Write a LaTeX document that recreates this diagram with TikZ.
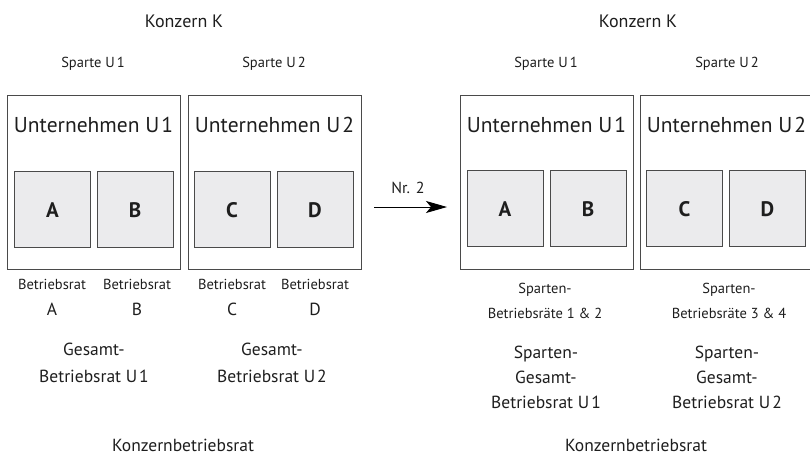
\documentclass[tikz,border=0pt]{standalone}
\usepackage{fontspec}
\setmainfont{PT Sans}
\usetikzlibrary{arrows.meta}
\definecolor{ink}{HTML}{1E1E1E}
\definecolor{frame}{HTML}{4A4A4A}
\definecolor{unitfill}{HTML}{EBEBED}
\newcommand{\fs}[1]{\fontsize{#1}{#1}\selectfont}
\newcommand{\un}[1]{U\kern2pt#1}
\begin{document}
\begin{tikzpicture}[x=1pt,y=-1pt,
  every node/.style={text=ink, inner sep=0pt, outer sep=0pt},
  firm/.style={draw=frame, line width=0.85pt, minimum width=173pt, minimum height=174pt},
  unitbox/.style={draw=frame, fill=unitfill, line width=0.8pt,
    minimum width=76pt, minimum height=76pt},
  unitlabel/.style={anchor=base, font=\bfseries\fs{21}},
  konzern/.style={anchor=base, font=\fs{18}},
  sparte/.style={anchor=base, font=\fs{14.5}},
  firmtitle/.style={anchor=base, font=\fs{21.5}},
  rat/.style={anchor=base, font=\fs{14.5}},
  ratbig/.style={anchor=base, font=\fs{17.5}},
  arrowlabel/.style={anchor=base, font=\fs{16}},
  flow/.style={line width=0.9pt, -{Stealth[length=21pt,width=12pt,inset=5pt]}}
]
\useasboundingbox (0,0) rectangle (810,458);

% ---------- before: two companies, four works ----------
\node[konzern] (kL) at (184,27) {Konzern K};
\node[sparte] (sL1) at (93,67) {Sparte \un{1}};
\node[sparte] (sL2) at (274,67) {Sparte \un{2}};

\node[firm] (uL1) at (93.5,182) {};
\node[firm] (uL2) at (274.5,182) {};
\node[firmtitle] (tL1) at (93.5,132) {Unternehmen \un{1}};
\node[firmtitle] (tL2) at (274.5,132) {Unternehmen \un{2}};

\node[unitbox] (aL) at (52.5,209) {};
\node[unitbox] (bL) at (135,209) {};
\node[unitbox] (cL) at (232,209) {};
\node[unitbox] (dL) at (315,209) {};
\node[unitlabel] at (52.5,217) {A};
\node[unitlabel] at (135,217) {B};
\node[unitlabel] at (232,217) {C};
\node[unitlabel] at (315,217) {D};

\node[rat] (brA) at (52,289) {Betriebsrat};
\node[rat] (brB) at (137,289) {Betriebsrat};
\node[rat] (brC) at (232,289) {Betriebsrat};
\node[rat] (brD) at (315,289) {Betriebsrat};
\node[ratbig] (lA) at (52,315) {A};
\node[ratbig] (lB) at (137,315) {B};
\node[ratbig] (lC) at (232,315) {C};
\node[ratbig] (lD) at (315,315) {D};

\node[ratbig] (gL1a) at (94,355) {Gesamt-};
\node[ratbig] (gL1b) at (94,382) {Betriebsrat \un{1}};
\node[ratbig] (gL2a) at (272,355) {Gesamt-};
\node[ratbig] (gL2b) at (272,382) {Betriebsrat \un{2}};

\node[ratbig] (kbrL) at (183,451) {Konzernbetriebsrat};

% ---------- transition ----------
\coordinate (arrS) at (374,207);
\coordinate (arrE) at (447,207);
\draw[flow] (arrS) -- (arrE);
\node[arrowlabel] (nr) at (408,193) {Nr. 2};

% ---------- after: divisional works councils ----------
\node[konzern] (kR) at (638,27) {Konzern K};
\node[sparte] (sR1) at (546,67) {Sparte \un{1}};
\node[sparte] (sR2) at (727,67) {Sparte \un{2}};

\node[firm] (uR1) at (546.5,182) {};
\node[firm] (uR2) at (726.5,182) {};
\node[firmtitle] (tR1) at (546.5,132) {Unternehmen \un{1}};
\node[firmtitle] (tR2) at (726.5,132) {Unternehmen \un{2}};

\node[unitbox] (aR) at (505,208) {};
\node[unitbox] (bR) at (588,208) {};
\node[unitbox] (cR) at (684.5,208) {};
\node[unitbox] (dR) at (767.5,208) {};
\node[unitlabel] at (505,216) {A};
\node[unitlabel] at (588,216) {B};
\node[unitlabel] at (684.5,216) {C};
\node[unitlabel] at (767.5,216) {D};

\node[rat] (sbR1a) at (545,293) {Sparten-};
\node[rat] (sbR1b) at (545,318) {Betriebsräte 1 \& 2};
\node[rat] (sbR2a) at (729,293) {Sparten-};
\node[rat] (sbR2b) at (729,318) {Betriebsräte 3 \& 4};

\node[ratbig] (sgR1a) at (546,358) {Sparten-};
\node[ratbig] (sgR1b) at (546,383) {Gesamt-};
\node[ratbig] (sgR1c) at (546,408) {Betriebsrat \un{1}};
\node[ratbig] (sgR2a) at (727,358) {Sparten-};
\node[ratbig] (sgR2b) at (727,383) {Gesamt-};
\node[ratbig] (sgR2c) at (727,408) {Betriebsrat \un{2}};

\node[ratbig] (kbrR) at (636,451) {Konzernbetriebsrat};
\end{tikzpicture}
\end{document}
